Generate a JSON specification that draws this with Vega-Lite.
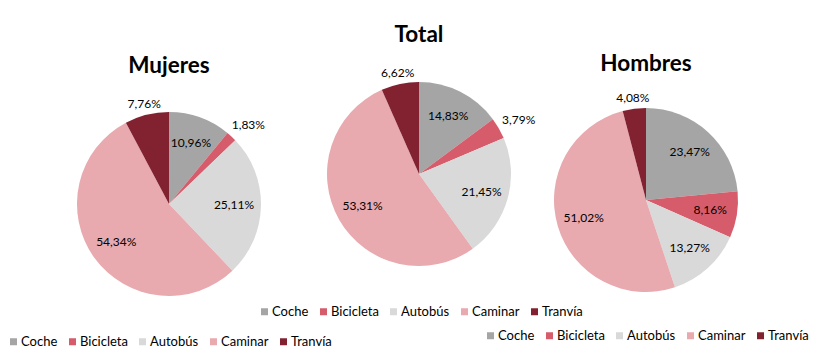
{
  "$schema": "https://vega.github.io/schema/vega-lite/v6.json",
  "padding": {"left": 0, "top": 23, "right": 0, "bottom": 0},
  "bounds": "flush",
  "spacing": 0,
  "background": "white",
  "datasets": {
    "d": [
      {"grupo": "Mujeres", "modo": "Coche", "orden": 1, "pct": 10.96, "label": "10,96%"},
      {"grupo": "Mujeres", "modo": "Bicicleta", "orden": 2, "pct": 1.83, "label": "1,83%"},
      {"grupo": "Mujeres", "modo": "Autobús", "orden": 3, "pct": 25.11, "label": "25,11%"},
      {"grupo": "Mujeres", "modo": "Caminar", "orden": 4, "pct": 54.34, "label": "54,34%"},
      {"grupo": "Mujeres", "modo": "Tranvía", "orden": 5, "pct": 7.76, "label": "7,76%"},
      {"grupo": "Total", "modo": "Coche", "orden": 1, "pct": 14.83, "label": "14,83%"},
      {"grupo": "Total", "modo": "Bicicleta", "orden": 2, "pct": 3.79, "label": "3,79%"},
      {"grupo": "Total", "modo": "Autobús", "orden": 3, "pct": 21.45, "label": "21,45%"},
      {"grupo": "Total", "modo": "Caminar", "orden": 4, "pct": 53.31, "label": "53,31%"},
      {"grupo": "Total", "modo": "Tranvía", "orden": 5, "pct": 6.62, "label": "6,62%"},
      {"grupo": "Hombres", "modo": "Coche", "orden": 1, "pct": 23.47, "label": "23,47%"},
      {"grupo": "Hombres", "modo": "Bicicleta", "orden": 2, "pct": 8.16, "label": "8,16%"},
      {"grupo": "Hombres", "modo": "Autobús", "orden": 3, "pct": 13.27, "label": "13,27%"},
      {"grupo": "Hombres", "modo": "Caminar", "orden": 4, "pct": 51.02, "label": "51,02%"},
      {"grupo": "Hombres", "modo": "Tranvía", "orden": 5, "pct": 4.08, "label": "4,08%"}
    ]
  },
  "config": {
    "view": {"stroke": null},
    "font": "Lato",
    "title": {"fontSize": 22.5, "fontWeight": "bold", "color": "#000000", "font": "Lato"},
    "legend": {"title": null, "symbolType": "square", "symbolSize": 49, "symbolStrokeWidth": 0, "labelFontSize": 13, "labelFont": "Lato", "labelColor": "#000000", "labelOffset": 1, "columnPadding": 8, "direction": "horizontal", "columns": 5, "orient": "none"}
  },
  "resolve": {"scale": {"color": "independent"}, "legend": {"color": "independent"}},
  "hconcat": [
    {
      "width": 338, "height": 244,
      "title": {"text": "Mujeres", "offset": 5},
      "data": {"name": "d"},
      "transform": [{"filter": "datum.grupo === 'Mujeres'"}],
      "encoding": {
        "theta": {"field": "pct", "type": "quantitative", "stack": true},
        "order": {"field": "orden", "type": "ordinal"}
      },
      "layer": [
        {"mark": {"type": "arc", "outerRadius": 92},
         "encoding": {"color": {"field": "modo", "type": "nominal",
           "scale": {"domain": ["Coche", "Bicicleta", "Autobús", "Caminar", "Tranvía"], "range": ["#A5A5A5", "#D65C6B", "#D9D9D9", "#E8A9AF", "#822231"]},
           "legend": {"legendX": 7, "legendY": 253}}}},
        {"mark": {"type": "text", "radius": 65, "fontSize": 12, "color": "#000000"},
         "encoding": {"text": {"condition": {"test": "datum.pct >= 8", "field": "label", "type": "nominal"}, "value": ""}}},
        {"mark": {"type": "text", "radius": 103, "fontSize": 12, "color": "#000000"},
         "encoding": {"text": {"condition": {"test": "datum.pct < 8 && datum.modo === 'Tranvía'", "field": "label", "type": "nominal"}, "value": ""}}},
        {"mark": {"type": "text", "radius": 108, "dx": 6, "fontSize": 12, "color": "#000000"},
         "encoding": {"text": {"condition": {"test": "datum.pct < 8 && datum.modo !== 'Tranvía'", "field": "label", "type": "nominal"}, "value": ""}}}
      ]
    },
    {
      "width": 162, "height": 184,
      "title": {"text": "Total", "offset": 16},
      "data": {"name": "d"},
      "transform": [{"filter": "datum.grupo === 'Total'"}],
      "encoding": {
        "theta": {"field": "pct", "type": "quantitative", "stack": true},
        "order": {"field": "orden", "type": "ordinal"}
      },
      "layer": [
        {"mark": {"type": "arc", "outerRadius": 92},
         "encoding": {"color": {"field": "modo", "type": "nominal",
           "scale": {"domain": ["Coche", "Bicicleta", "Autobús", "Caminar", "Tranvía"], "range": ["#A5A5A5", "#D65C6B", "#D9D9D9", "#E8A9AF", "#822231"]},
           "legend": {"legendX": -80, "legendY": 223}}}},
        {"mark": {"type": "text", "radius": 65, "fontSize": 12, "color": "#000000"},
         "encoding": {"text": {"condition": {"test": "datum.pct >= 8", "field": "label", "type": "nominal"}, "value": ""}}},
        {"mark": {"type": "text", "radius": 103, "fontSize": 12, "color": "#000000"},
         "encoding": {"text": {"condition": {"test": "datum.pct < 8 && datum.modo === 'Tranvía'", "field": "label", "type": "nominal"}, "value": ""}}},
        {"mark": {"type": "text", "radius": 108, "dx": 6, "fontSize": 12, "color": "#000000"},
         "encoding": {"text": {"condition": {"test": "datum.pct < 8 && datum.modo !== 'Tranvía'", "field": "label", "type": "nominal"}, "value": ""}}}
      ]
    },
    {
      "width": 292, "height": 236,
      "title": {"text": "Hombres", "offset": 7},
      "data": {"name": "d"},
      "transform": [{"filter": "datum.grupo === 'Hombres'"}],
      "encoding": {
        "theta": {"field": "pct", "type": "quantitative", "stack": true},
        "order": {"field": "orden", "type": "ordinal"}
      },
      "layer": [
        {"mark": {"type": "arc", "outerRadius": 92},
         "encoding": {"color": {"field": "modo", "type": "nominal",
           "scale": {"domain": ["Coche", "Bicicleta", "Autobús", "Caminar", "Tranvía"], "range": ["#A5A5A5", "#D65C6B", "#D9D9D9", "#E8A9AF", "#822231"]},
           "legend": {"legendX": -16, "legendY": 247}}}},
        {"mark": {"type": "text", "radius": 65, "fontSize": 12, "color": "#000000"},
         "encoding": {"text": {"condition": {"test": "datum.pct >= 8", "field": "label", "type": "nominal"}, "value": ""}}},
        {"mark": {"type": "text", "radius": 103, "fontSize": 12, "color": "#000000"},
         "encoding": {"text": {"condition": {"test": "datum.pct < 8 && datum.modo === 'Tranvía'", "field": "label", "type": "nominal"}, "value": ""}}},
        {"mark": {"type": "text", "radius": 108, "dx": 6, "fontSize": 12, "color": "#000000"},
         "encoding": {"text": {"condition": {"test": "datum.pct < 8 && datum.modo !== 'Tranvía'", "field": "label", "type": "nominal"}, "value": ""}}}
      ]
    }
  ]
}
